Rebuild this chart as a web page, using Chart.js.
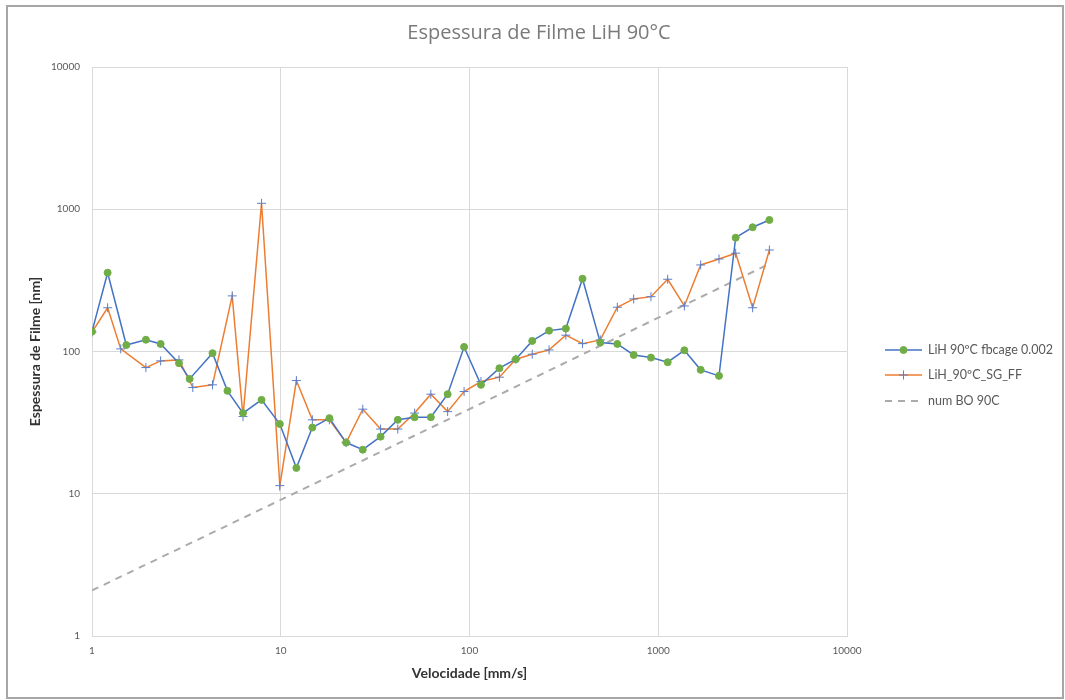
<!DOCTYPE html>
<html>
<head>
<meta charset="utf-8">
<script src="https://cdn.jsdelivr.net/npm/chart.js@4/dist/chart.umd.min.js"></script>
<style>
  html, body { margin: 0; padding: 0; background: #fff; }
  #wrap { position: relative; width: 1065px; height: 700px; }
  #frame { position: absolute; left: 6px; top: 5px; width: 1058px; height: 694px;
           border: 2px solid #a6a6a6; box-sizing: border-box; pointer-events: none; }
</style>
</head>
<body>
<div id="wrap">
  <canvas id="c" width="1065" height="700"></canvas>
  <div id="frame"></div>
</div>
<script>
// Velocity [mm/s] for each measured point
const velFbcage = [1, 1.21, 1.52, 1.93, 2.31, 2.89, 3.29, 4.35, 5.22, 6.31, 7.91, 9.89, 12.1, 14.7, 18.1, 22.2, 27.2, 33.8, 41.7, 51.2, 62.4, 76.6, 93.6, 115, 144, 176, 215, 264, 324, 397, 493, 607, 741, 915, 1122, 1375, 1678, 2098, 2571, 3163, 3880];
const velSgFf   = [1, 1.21, 1.42, 1.93, 2.31, 2.89, 3.42, 4.35, 5.53, 6.31, 7.91, 9.89, 12.1, 14.7, 18.1, 22.2, 27.2, 33.8, 41.7, 51.2, 62.4, 76.6, 93.6, 115, 144, 176, 215, 264, 324, 397, 493, 607, 741, 915, 1122, 1375, 1678, 2098, 2571, 3163, 3880];
const velBO     = [1, 70.3, 3863];

// Film thickness [nm]
const filmFbcage = [138, 358, 111, 121, 113, 82.8, 64.2, 97.3, 52.9, 36.9, 45.7, 30.9, 15.2, 29.2, 34.0, 22.9, 20.4, 25.2, 33.1, 34.5, 34.5, 50.1, 107.7, 58.3, 76.3, 88.3, 118.7, 140.2, 144.9, 325, 115.5, 113, 94.6, 90.6, 84.1, 102, 74.3, 67.4, 631, 747, 841];
const filmSgFf   = [137, 203, 104.3, 77.1, 85.9, 87.3, 55.8, 58.3, 246, 34.9, 1101, 11.4, 62.5, 33.1, 33.1, 22.9, 39.3, 28.5, 28.5, 36.9, 50.1, 37.8, 52.3, 61.5, 66.0, 88.3, 95.7, 102.6, 130.2, 113.6, 120.7, 204.7, 234.2, 243, 322, 209, 406, 447, 491, 203, 517];
const filmBO     = [2.09, 31.4, 412];

const seriesNames = ['LiH 90ºC fbcage 0.002', 'LiH_90ºC_SG_FF', 'num BO 90C'];
const decadeTicks = [1, 10, 100, 1000, 10000];
const chartTitle = 'Espessura de Filme LiH 90°C';

const pairs = (xs, ys) => xs.map((x, i) => ({ x: x, y: ys[i] }));

const FONT = 'Lato, "Liberation Sans", sans-serif';
const GRID = '#d9d9d9';
const TEXT = '#595959';

// Title centred over the whole chart (plot + legend column)
const wideTitle = {
  id: 'wideTitle',
  afterDraw(chart) {
    const ctx = chart.ctx;
    ctx.save();
    ctx.fillStyle = '#7a7a7a';
    ctx.font = '20px "Open Sans", sans-serif';
    ctx.textAlign = 'center';
    ctx.textBaseline = 'middle';
    ctx.fillText(chartTitle, 539, 33);
    ctx.restore();
  }
};

// Legend drawn to the right of the plot area, using each dataset's own styling
const sideLegend = {
  id: 'sideLegend',
  afterDraw(chart) {
    const ctx = chart.ctx;
    const x0 = 885, x1 = 922, tx = 928;
    const rows = [350, 375, 401];
    chart.data.datasets.forEach((ds, i) => {
      const y = rows[i];
      ctx.save();
      ctx.strokeStyle = ds.borderColor;
      ctx.lineWidth = ds.borderWidth;
      ctx.setLineDash(ds.borderDash || []);
      ctx.beginPath();
      ctx.moveTo(x0, y);
      ctx.lineTo(x1, y);
      ctx.stroke();
      ctx.setLineDash([]);
      if (ds.pointRadius > 0) {
        ctx.fillStyle = ds.pointBackgroundColor;
        ctx.strokeStyle = ds.pointBorderColor;
        ctx.lineWidth = ds.pointBorderWidth;
        Chart.helpers.drawPoint(ctx, {
          pointStyle: ds.pointStyle, radius: ds.pointRadius,
          borderWidth: ds.pointBorderWidth, rotation: 0
        }, (x0 + x1) / 2, y);
      }
      ctx.fillStyle = TEXT;
      ctx.font = '12.5px ' + FONT;
      ctx.textBaseline = 'middle';
      ctx.textAlign = 'left';
      ctx.fillText(ds.label, tx, y);
      ctx.restore();
    });
  }
};

new Chart(document.getElementById('c'), {
  type: 'line',
  data: {
    datasets: [
      {
        label: seriesNames[0],
        data: pairs(velFbcage, filmFbcage),
        borderColor: '#4472c4',
        borderWidth: 1.5,
        pointStyle: 'circle',
        pointRadius: 3.5,
        pointBackgroundColor: '#70ad47',
        pointBorderColor: '#70ad47',
        pointBorderWidth: 1,
        tension: 0
      },
      {
        label: seriesNames[1],
        data: pairs(velSgFf, filmSgFf),
        borderColor: '#ed7d31',
        borderWidth: 1.5,
        pointStyle: 'cross',
        pointRadius: 4.5,
        pointBackgroundColor: '#5a7fcc',
        pointBorderColor: '#5a7fcc',
        pointBorderWidth: 1,
        tension: 0
      },
      {
        label: seriesNames[2],
        data: pairs(velBO, filmBO),
        borderColor: '#ababab',
        borderWidth: 2,
        borderDash: [7, 6],
        pointRadius: 0,
        tension: 0
      }
    ]
  },
  options: {
    responsive: false,
    animation: false,
    events: [],
    layout: { padding: { left: 0, top: 67, right: 218, bottom: 0 } },
    plugins: {
      legend: { display: false },
      tooltip: { enabled: false },
      title: { display: false }
    },
    scales: {
      x: {
        type: 'logarithmic',
        min: 1, max: 10000,
        afterBuildTicks: (s) => { s.ticks = decadeTicks.map(v => ({ value: v })); },
        afterFit: (s) => { s.height = 64; },
        grid: { color: GRID, lineWidth: 1, drawTicks: false },
        border: { color: GRID, width: 1 },
        ticks: {
          padding: 9,
          color: TEXT,
          font: { family: FONT, size: 10 },
          maxRotation: 0,
          autoSkip: false,
          callback: (v) => String(v)
        },
        title: {
          display: true,
          text: 'Velocidade [mm/s]',
          color: '#333333',
          font: { family: FONT, size: 14, weight: 'bold' },
          padding: { top: 0, bottom: 18.6 }
        }
      },
      y: {
        type: 'logarithmic',
        min: 1, max: 10000,
        afterBuildTicks: (s) => { s.ticks = decadeTicks.map(v => ({ value: v })); },
        afterFit: (s) => { s.width = 92; },
        grid: { color: GRID, lineWidth: 1, drawTicks: false },
        border: { color: GRID, width: 1 },
        ticks: {
          padding: 12,
          color: TEXT,
          font: { family: FONT, size: 10 },
          autoSkip: false,
          callback: (v) => String(v)
        },
        title: {
          display: true,
          text: 'Espessura de Filme [nm]',
          color: '#333333',
          font: { family: FONT, size: 14, weight: 'bold' },
          padding: { top: 26.6, bottom: 0 }
        }
      }
    }
  },
  plugins: [wideTitle, sideLegend]
});
</script>
</body>
</html>
